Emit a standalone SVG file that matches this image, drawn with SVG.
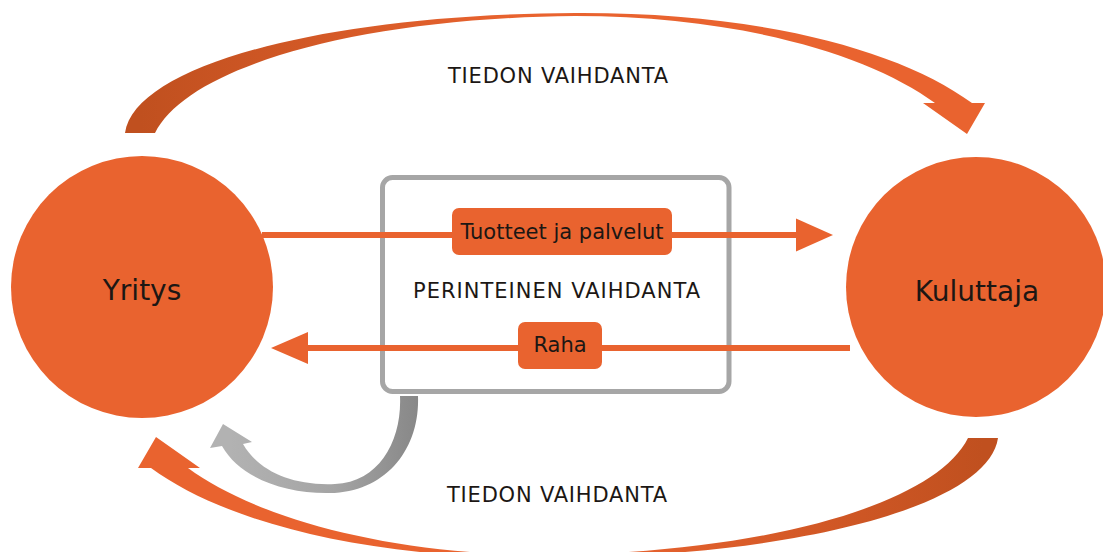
<svg xmlns="http://www.w3.org/2000/svg" width="1103" height="552" viewBox="0 0 1103 552">
  <defs>
    <style>
      .node { fill: #e9632f; }
      .lbl { font-family: "DejaVu Sans", "Liberation Sans", sans-serif; fill: #1c1714; text-anchor: middle; }
      .flow { stroke: #e9632f; stroke-width: 6; fill: none; }
      .head { fill: #e9632f; }
    </style>
    <linearGradient id="arcGrad" gradientUnits="userSpaceOnUse" x1="140" y1="0" x2="520" y2="0">
      <stop offset="0" stop-color="#c0501f"/>
      <stop offset="1" stop-color="#e9632f"/>
    </linearGradient>
    <linearGradient id="grayGrad" gradientUnits="userSpaceOnUse" x1="230" y1="0" x2="420" y2="0">
      <stop offset="0" stop-color="#b2b2b2"/>
      <stop offset="0.55" stop-color="#a4a4a4"/>
      <stop offset="1" stop-color="#878787"/>
    </linearGradient>
    <path id="bigArc" d="M125,133 C135,64 330,14 575,13 C760,12 900,50 972,103 L985,103 L967,134 L923,103 L935,103 C870,55 740,16 575,16 C360,18 188,66 155,133 Z"/>
  </defs>

  <rect width="1103" height="552" fill="#ffffff"/>

  <g id="connectors">
    <use href="#bigArc" fill="url(#arcGrad)"/>
    <use href="#bigArc" fill="url(#arcGrad)" transform="rotate(180 561.5 285.5)"/>
    <path d="M400,396 C402,440 380,482 335,484 C290,486 258,470 243,444 L252,442 L223,424 L210,448 L222,446 C240,478 285,494 330,493 C385,492 420,450 418,396 Z" fill="url(#grayGrad)"/>
  </g>

  <g id="box-perinteinen">
    <rect x="382.5" y="177.5" width="346.5" height="214" rx="10" fill="#ffffff" stroke="#a6a6a6" stroke-width="5"/>
    <text class="lbl" x="556.5" y="298" font-size="21" textLength="287">PERINTEINEN VAIHDANTA</text>
  </g>

  <g id="flows">
    <line class="flow" x1="262" y1="235" x2="800" y2="235"/>
    <polygon class="head" points="796,218.5 833,235 796,251.5"/>
    <line class="flow" x1="850" y1="348" x2="304" y2="348"/>
    <polygon class="head" points="271,348 308,332 308,364"/>
  </g>

  <g id="label-tuotteet">
    <rect x="452" y="208" width="220" height="47" rx="7" class="node"/>
    <text class="lbl" x="562" y="239" font-size="21">Tuotteet ja palvelut</text>
  </g>

  <g id="label-raha">
    <rect x="518" y="322" width="84" height="47" rx="7" class="node"/>
    <text class="lbl" x="560" y="352" font-size="21">Raha</text>
  </g>

  <g id="node-yritys">
    <circle cx="142" cy="287" r="131" class="node"/>
    <text class="lbl" x="142" y="300" font-size="28">Yritys</text>
  </g>

  <g id="node-kuluttaja">
    <circle cx="976" cy="287" r="130" class="node"/>
    <text class="lbl" x="977" y="301" font-size="28">Kuluttaja</text>
  </g>

  <g id="labels-tiedon">
    <text class="lbl" x="558" y="83" font-size="21" textLength="220">TIEDON VAIHDANTA</text>
    <text class="lbl" x="557" y="502" font-size="21" textLength="220">TIEDON VAIHDANTA</text>
  </g>
</svg>
